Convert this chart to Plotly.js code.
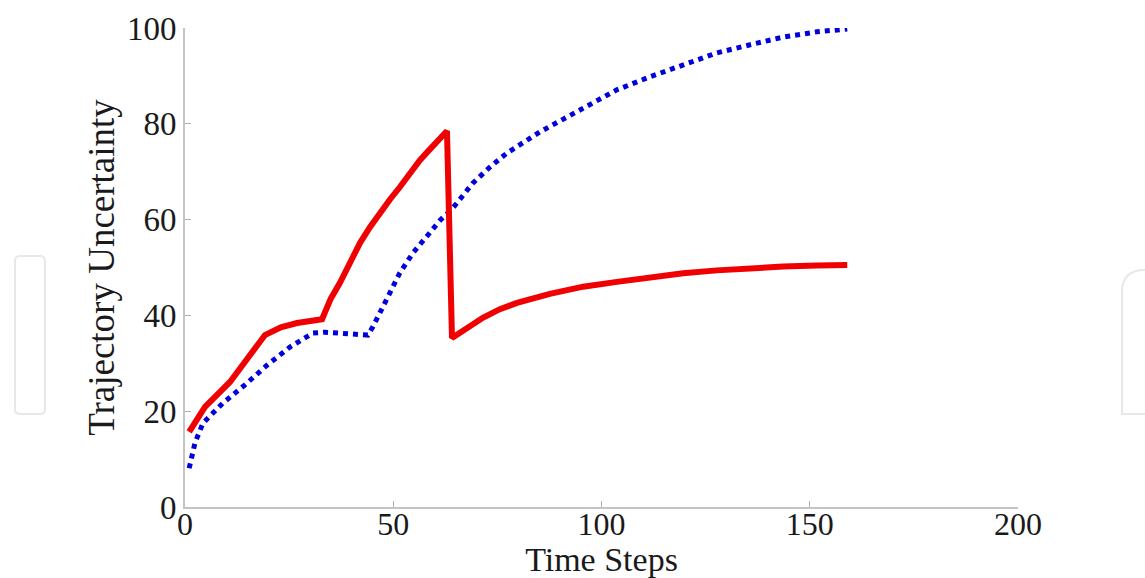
<!DOCTYPE html>
<html>
<head>
<meta charset="utf-8">
<script src="https://cdn.plot.ly/plotly-3.0.1.min.js"></script>
<style>html,body{margin:0;padding:0;background:#fff;}#chart{width:1145px;height:578px;}</style>
</head>
<body>
<div id="chart"></div>
<script>
// Data
const redX = [1, 4.8, 10.8, 14.9, 19.2, 23, 26.9, 32.9, 35, 37.2, 39.6, 42, 44.4, 46.8, 49.2, 51.6, 54, 56.4, 58.5, 60.5, 62.9, 64.1, 68.4, 71.5, 75.6, 79.7, 87.6, 95.6, 103.7, 111.6, 119.6, 127.7, 135.7, 143.6, 151.7, 159];
const redY = [15.7, 20.9, 26.1, 31.1, 35.9, 37.5, 38.4, 39.2, 43.5, 46.8, 51.2, 55.1, 58.4, 61.4, 64.2, 66.8, 69.7, 72.4, 74.4, 76.2, 78.5, 35.3, 37.6, 39.5, 41.3, 42.6, 44.5, 46.0, 47.0, 48.0, 48.8, 49.4, 49.9, 50.2, 50.4, 50.5];
const blueX = [1, 2.4, 4.3, 9.1, 14.4, 19.7, 25.2, 30.7, 33.5, 37.2, 43.9, 45.1, 48.5, 51.6, 54.7, 57.9, 61.2, 64.3, 69.1, 73, 77.3, 85.2, 93.2, 103.7, 111.6, 119.6, 127.7, 135.7, 143.6, 151.7, 159];
const blueY = [8.1, 13.4, 17.5, 21.7, 25.5, 29.6, 33.4, 36.3, 36.5, 36.3, 35.9, 37.6, 43.8, 48.9, 53.0, 56.4, 59.8, 62.4, 67.6, 70.8, 73.9, 78.3, 82.2, 87.1, 89.8, 92.3, 94.8, 96.5, 98.1, 99.2, 99.8];
const xTicks = [0, 50, 100, 150, 200];
const yTicks = [0, 20, 40, 60, 80, 100];
const xTitle = 'Time Steps';
const yTitle = 'Trajectory Uncertainty';

const W = 1145, H = 578;
const M = {l: 185, r: 127, t: 28, b: 71};
const pw = W - M.l - M.r, ph = H - M.t - M.b;
function px(x) { return (x - M.l) / pw; }
function py(y) { return (H - M.b - y) / ph; }

// faint watermark outlines present in the background of the reference
function roundRect(x0, y0, x1, y1, r) {
  return `M ${px(x0 + r)} ${py(y0)} L ${px(x1 - r)} ${py(y0)} Q ${px(x1)} ${py(y0)} ${px(x1)} ${py(y0 + r)} ` +
         `L ${px(x1)} ${py(y1 - r)} Q ${px(x1)} ${py(y1)} ${px(x1 - r)} ${py(y1)} L ${px(x0 + r)} ${py(y1)} ` +
         `Q ${px(x0)} ${py(y1)} ${px(x0)} ${py(y1 - r)} L ${px(x0)} ${py(y0 + r)} Q ${px(x0)} ${py(y0)} ${px(x0 + r)} ${py(y0)} Z`;
}
const rightPath = `M ${px(1160)} ${py(414)} L ${px(1122)} ${py(414)} L ${px(1122)} ${py(292)} Q ${px(1122)} ${py(270)} ${px(1145)} ${py(270)}`;

const font = 'Liberation Serif, Times New Roman, serif';
const data = [
  {x: blueX, y: blueY, type: 'scatter', mode: 'lines',
   line: {color: '#0000dd', width: 5, dash: 'dot'}, hoverinfo: 'skip'},
  {x: redX, y: redY, type: 'scatter', mode: 'lines',
   line: {color: '#f00000', width: 6}, hoverinfo: 'skip'}
];
const layout = {
  width: W, height: H,
  margin: M,
  paper_bgcolor: '#ffffff', plot_bgcolor: '#ffffff',
  showlegend: false,
  font: {family: font, color: '#1a1a1a', size: 33},
  xaxis: {
    range: [0, 200], tickvals: xTicks, ticktext: xTicks.map(String),
    showgrid: false, zeroline: false, showline: true, linecolor: '#c4c4c4', linewidth: 2,
    ticks: 'inside', ticklen: 6, tickwidth: 1, tickcolor: '#b0b0b0',
    ticklabelstandoff: -12,
    tickfont: {family: font, size: 32, color: '#1a1a1a'},
    title: {text: xTitle, font: {family: font, size: 34, color: '#1a1a1a'}, standoff: 8}
  },
  yaxis: {
    range: [0, 100], tickvals: yTicks, ticktext: yTicks.map(String),
    showgrid: false, zeroline: false, showline: true, linecolor: '#c4c4c4', linewidth: 2,
    ticks: 'inside', ticklen: 6, tickwidth: 1, tickcolor: '#b0b0b0',
    tickfont: {family: font, size: 33, color: '#1a1a1a'},
    title: {text: yTitle, font: {family: font, size: 37, color: '#1a1a1a'}, standoff: 1}
  },
  shapes: [
    {type: 'path', xref: 'paper', yref: 'paper', path: roundRect(15, 256, 45, 414, 5),
     line: {color: '#e8e8e8', width: 2}, layer: 'below'},
    {type: 'path', xref: 'paper', yref: 'paper', path: rightPath,
     line: {color: '#e8e8e8', width: 2}, layer: 'below'}
  ]
};
Plotly.newPlot('chart', data, layout, {staticPlot: true, displayModeBar: false});
</script>
</body>
</html>
